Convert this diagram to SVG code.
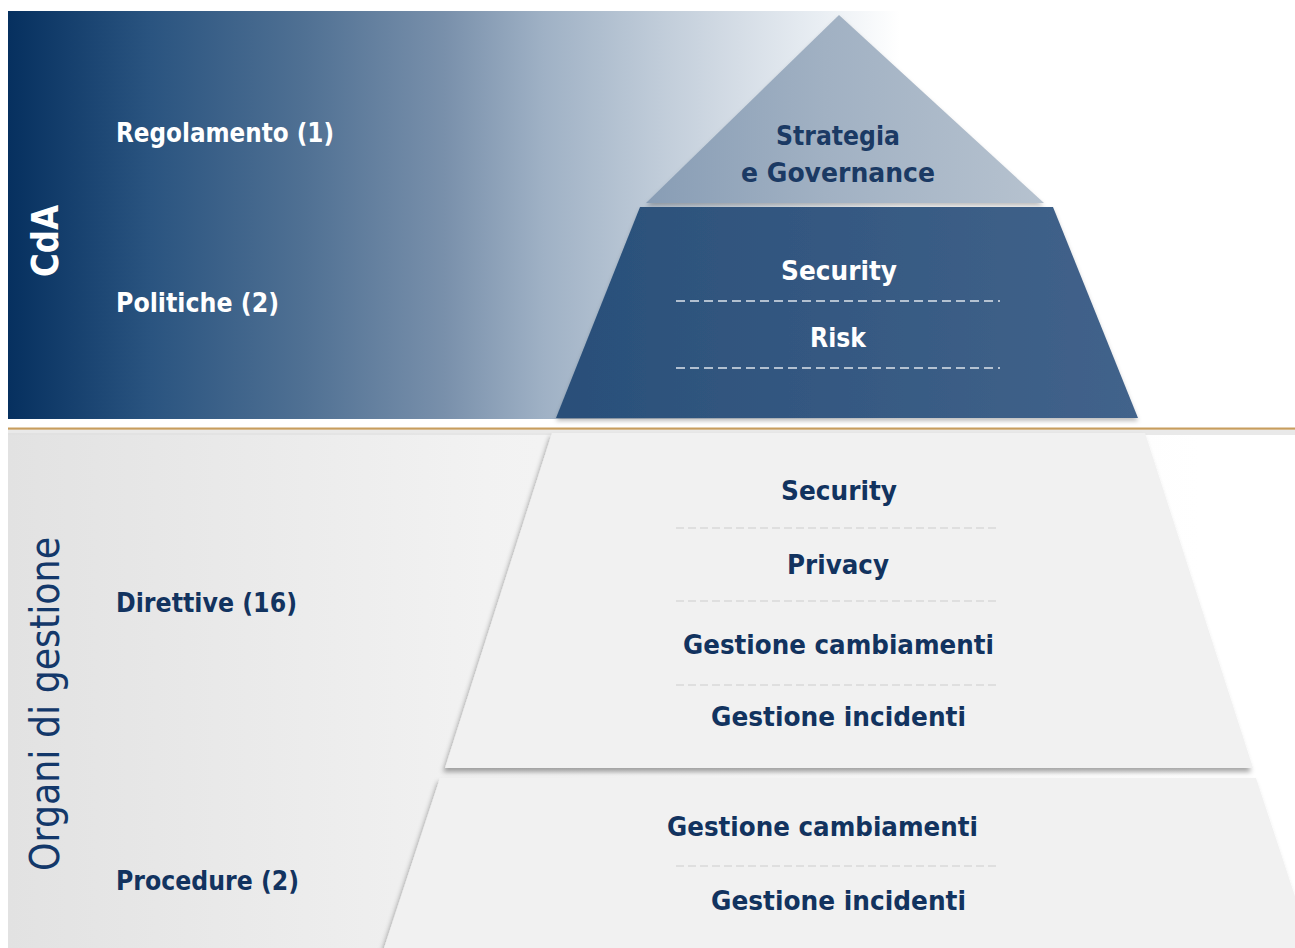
<svg xmlns="http://www.w3.org/2000/svg" width="1295" height="948" viewBox="0 0 1295 948">
<defs>
<linearGradient id="gTop" x1="8" y1="0" x2="900" y2="0" gradientUnits="userSpaceOnUse">
<stop offset="0" stop-color="#06305f"/>
<stop offset="0.16" stop-color="#2a5480"/>
<stop offset="0.33" stop-color="#4f7093"/>
<stop offset="0.49" stop-color="#7990ab"/>
<stop offset="0.6" stop-color="#9fb1c5"/>
<stop offset="0.73" stop-color="#c0ccd9"/>
<stop offset="0.82" stop-color="#d5dde6"/>
<stop offset="0.91" stop-color="#e9eef3"/>
<stop offset="1" stop-color="#ffffff"/>
</linearGradient>
<linearGradient id="gBot" x1="8" y1="0" x2="1200" y2="0" gradientUnits="userSpaceOnUse">
<stop offset="0" stop-color="#e2e2e2"/>
<stop offset="0.4" stop-color="#f2f2f2"/>
<stop offset="1" stop-color="#ffffff"/>
</linearGradient>
<linearGradient id="gApex" x1="646" y1="0" x2="1044" y2="0" gradientUnits="userSpaceOnUse">
<stop offset="0" stop-color="#889db5"/>
<stop offset="0.45" stop-color="#a1b1c3"/>
<stop offset="1" stop-color="#b6c2cf"/>
</linearGradient>
<linearGradient id="gDark" x1="556" y1="0" x2="1138" y2="0" gradientUnits="userSpaceOnUse">
<stop offset="0" stop-color="#294f79"/>
<stop offset="1" stop-color="#42638b"/>
</linearGradient>
<filter id="sh" x="-10%" y="-10%" width="120%" height="120%">
<feDropShadow dx="0" dy="3" stdDeviation="2" flood-color="#000" flood-opacity="0.25"/>
</filter>
<filter id="shL" x="-10%" y="-10%" width="120%" height="120%">
<feDropShadow dx="-2" dy="4" stdDeviation="2.5" flood-color="#000" flood-opacity="0.35"/>
</filter>
<style>
.lbl{font-family:"DejaVu Sans","Liberation Sans",sans-serif;font-weight:bold;font-size:26px}
.pt{font-family:"DejaVu Sans","Liberation Sans",sans-serif;font-weight:bold;font-size:26px;text-anchor:middle}
.w{fill:#ffffff}
.n{fill:#12335f}
.dw{stroke:#dde4ec;stroke-width:1.5;stroke-dasharray:9 5;fill:none}
.dl{stroke:#cdcdcd;stroke-width:1.2;stroke-dasharray:8 4;fill:none}
</style>
</defs>
<rect width="1295" height="948" fill="#ffffff"/>
<g id="band-cda">
<rect x="8" y="11" width="892" height="408" fill="url(#gTop)"/>
</g>
<g id="band-organi">
<rect x="8" y="433" width="1287" height="515" fill="url(#gBot)"/>
<rect x="8" y="430" width="1287" height="5" fill="#e0e0e0" opacity="0.7"/>
</g>
<g id="separator">
<rect x="8" y="427.5" width="1287" height="2.2" fill="#c79d5e"/>
</g>
<g id="apex">
<polygon points="839,15 1044,203 646,203" fill="url(#gApex)" filter="url(#sh)"/>
<text class="pt" x="838" y="145" fill="#1b3a64" textLength="124" lengthAdjust="spacingAndGlyphs">Strategia</text>
<text class="pt" x="838" y="182" fill="#1b3a64" textLength="194" lengthAdjust="spacingAndGlyphs">e Governance</text>
</g>
<g id="tier-cda">
<polygon points="640,207 1053,207 1138,418 556,418" fill="url(#gDark)" filter="url(#sh)"/>
<text class="pt w" x="839" y="280" textLength="116" lengthAdjust="spacingAndGlyphs">Security</text>
<line class="dw" x1="676" y1="301" x2="1000" y2="301"/>
<text class="pt w" x="838" y="347" textLength="56" lengthAdjust="spacingAndGlyphs">Risk</text>
<line class="dw" x1="676" y1="368" x2="1000" y2="368"/>
</g>
<g id="tier-direttive">
<polygon points="552,433 1145,433 1253,768 445,768" fill="#f1f1f1" filter="url(#shL)"/>
<text class="pt n" x="839" y="500" textLength="116" lengthAdjust="spacingAndGlyphs">Security</text>
<line class="dl" x1="676" y1="528" x2="1000" y2="528"/>
<text class="pt n" x="838" y="574" textLength="102" lengthAdjust="spacingAndGlyphs">Privacy</text>
<line class="dl" x1="676" y1="601" x2="1000" y2="601"/>
<text class="pt n" x="838.5" y="654" textLength="311" lengthAdjust="spacingAndGlyphs">Gestione cambiamenti</text>
<line class="dl" x1="676" y1="685" x2="1000" y2="685"/>
<text class="pt n" x="838.5" y="726" textLength="255" lengthAdjust="spacingAndGlyphs">Gestione incidenti</text>
</g>
<g id="tier-procedure">
<polygon points="440,778 1256,778 1312,948 384,948" fill="#f1f1f1" filter="url(#shL)"/>
<text class="pt n" x="822.5" y="836" textLength="311" lengthAdjust="spacingAndGlyphs">Gestione cambiamenti</text>
<line class="dl" x1="676" y1="866" x2="1000" y2="866"/>
<text class="pt n" x="838.5" y="910" textLength="255" lengthAdjust="spacingAndGlyphs">Gestione incidenti</text>
</g>
<g id="labels">
<text class="lbl w" x="116" y="142" textLength="218" lengthAdjust="spacingAndGlyphs">Regolamento (1)</text>
<text class="lbl w" x="116" y="312" textLength="163" lengthAdjust="spacingAndGlyphs">Politiche (2)</text>
<text class="lbl n" x="116" y="612" textLength="181" lengthAdjust="spacingAndGlyphs">Direttive (16)</text>
<text class="lbl n" x="116" y="890" textLength="183" lengthAdjust="spacingAndGlyphs">Procedure (2)</text>
<text x="58" y="241" transform="rotate(-90 58 241)" fill="#ffffff" text-anchor="middle" font-family="DejaVu Sans, Liberation Sans, sans-serif" font-weight="bold" font-size="38" textLength="72" lengthAdjust="spacingAndGlyphs">CdA</text>
<text x="59" y="704" transform="rotate(-90 59 704)" fill="#13386a" text-anchor="middle" font-family="DejaVu Sans, Liberation Sans, sans-serif" font-size="41" textLength="334" lengthAdjust="spacingAndGlyphs">Organi di gestione</text>
</g>
<g id="connectors"/>
</svg>
